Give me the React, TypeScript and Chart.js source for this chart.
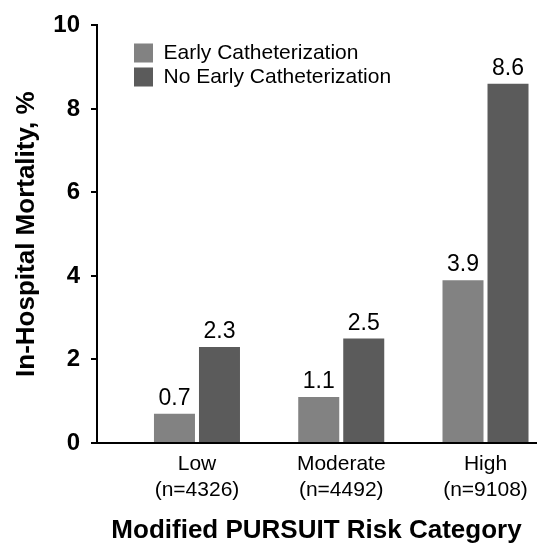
import React, { useEffect, useRef } from "react";
import { Chart, registerables } from "chart.js";

Chart.register(...registerables);

const categories = ["Low", "Moderate", "High"];
const sampleSizes = ["(n=4326)", "(n=4492)", "(n=9108)"];
const seriesNames = ["Early Catheterization", "No Early Catheterization"];
const earlyCath = [0.7, 1.1, 3.9];
const noEarlyCath = [2.3, 2.5, 8.6];
const yTicks = [0, 2, 4, 6, 8, 10];

const FONT = "'Liberation Sans', Arial, Helvetica, sans-serif";

const valueLabels = {
  id: "valueLabels",
  afterDatasetsDraw(chart: any) {
    const ctx = chart.ctx;
    ctx.save();
    ctx.font = `23px ${FONT}`;
    ctx.fillStyle = "#000";
    ctx.textAlign = "center";
    ctx.textBaseline = "alphabetic";
    chart.data.datasets.forEach((ds: any, di: number) => {
      const meta = chart.getDatasetMeta(di);
      meta.data.forEach((bar: any, i: number) => {
        const v = ds.data[i].y as number;
        ctx.fillText(v.toFixed(1), bar.x, bar.y - 9);
      });
    });
    ctx.restore();
  },
};

const legendPlacement = {
  id: "legendPlacement",
  afterLayout(chart: any) {
    const lg = chart.legend;
    if (!lg) return;
    const w = lg.width;
    const h = lg.height;
    lg.left = chart.chartArea.left + 34;
    lg.top = chart.chartArea.top + 14;
    lg.right = lg.left + w;
    lg.bottom = lg.top + h;
  },
};

export default function App() {
  const ref = useRef<HTMLCanvasElement | null>(null);

  useEffect(() => {
    if (!ref.current) return;
    const chart = new Chart(ref.current, {
      type: "bar",
      data: {
        datasets: [
          {
            label: seriesNames[0],
            data: earlyCath.map((v, i) => ({ x: i, y: v })),
            backgroundColor: "#828282",
            borderWidth: 0,
            categoryPercentage: 0.624,
            barPercentage: 0.911,
          },
          {
            label: seriesNames[1],
            data: noEarlyCath.map((v, i) => ({ x: i, y: v })),
            backgroundColor: "#5b5b5b",
            borderWidth: 0,
            categoryPercentage: 0.624,
            barPercentage: 0.911,
          },
        ],
      } as any,
      options: {
        responsive: false,
        animation: false,
        layout: { padding: { top: 21, right: 1, bottom: 0, left: 0 } },
        plugins: {
          tooltip: { enabled: false },
          legend: {
            display: true,
            position: "chartArea" as any,
            align: "start",
            labels: {
              boxWidth: 19,
              boxHeight: 19,
              padding: 3,
              color: "#000",
              font: { family: FONT, size: 21 },
            },
          },
        },
        scales: {
          x: {
            type: "linear",
            offset: false,
            min: -0.693,
            max: 2.35,
            afterBuildTicks: (s: any) => {
              s.ticks = categories.map((_, i) => ({ value: i }));
            },
            afterFit: (s: any) => {
              s.height = 101;
            },
            grid: { display: false, drawTicks: false, offset: false },
            border: { display: true, color: "#000", width: 2 },
            ticks: {
              padding: 9,
              color: "#000",
              autoSkip: false,
              maxRotation: 0,
              font: { family: FONT, size: 21, lineHeight: 1.2 },
              callback: (v: any) => [categories[v], sampleSizes[v]],
            },
            title: {
              display: true,
              text: "Modified PURSUIT Risk Category",
              color: "#000",
              font: { family: FONT, size: 26, weight: "bold", lineHeight: 1 },
              padding: { top: 4, bottom: 0 },
            },
          },
          y: {
            min: 0,
            max: 10,
            afterBuildTicks: (s: any) => {
              s.ticks = yTicks.map((v) => ({ value: v }));
            },
            afterFit: (s: any) => {
              s.width = 97;
            },
            grid: {
              drawOnChartArea: false,
              drawTicks: true,
              tickLength: 6,
              color: "#000",
              lineWidth: 2,
            },
            border: { display: true, color: "#000", width: 2 },
            ticks: {
              padding: 11,
              color: "#000",
              font: { family: FONT, size: 24, weight: "bold" },
            },
            title: {
              display: true,
              text: "In-Hospital Mortality, %",
              color: "#000",
              font: { family: FONT, size: 26, weight: "bold", lineHeight: 1 },
              padding: { top: 14, bottom: 0 },
            },
          },
        } as any,
      },
      plugins: [valueLabels, legendPlacement],
    });
    return () => chart.destroy();
  }, []);

  return (
    <div style={{ position: "absolute", left: 0, top: 0, width: 537, height: 544, background: "#fff" }}>
      <canvas ref={ref} width={537} height={544} style={{ display: "block" }} />
    </div>
  );
}
